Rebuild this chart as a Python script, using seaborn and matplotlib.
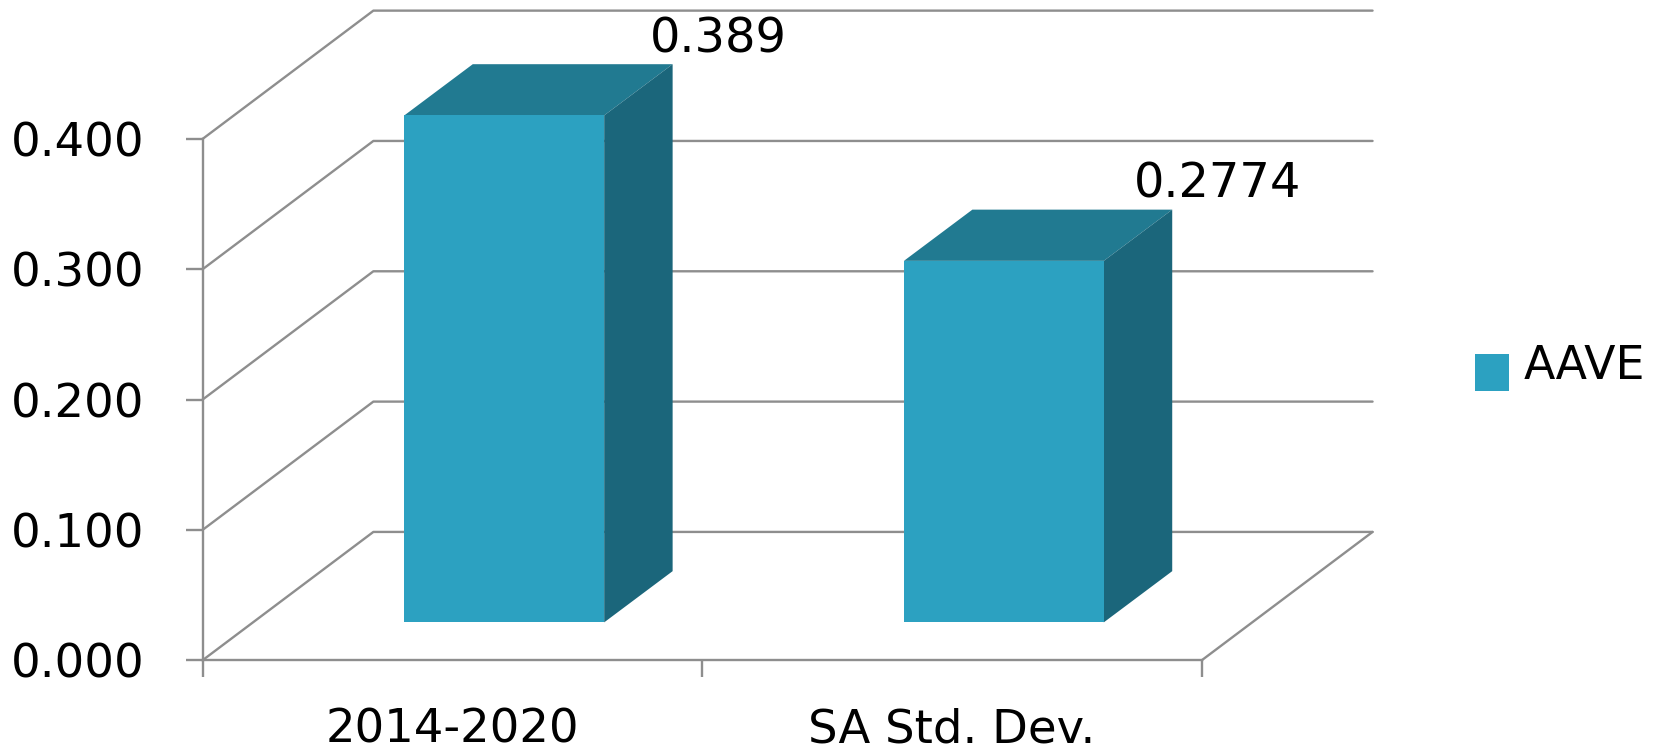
# 3D style bar chart, AAVE

import pandas as pd
import seaborn as sns
import matplotlib.pyplot as plt
from matplotlib.legend_handler import HandlerPatch
from matplotlib.patches import Patch, Polygon
from matplotlib.transforms import Affine2D

categories = ['2014-2020', 'SA Std. Dev.']
values = [0.389, 0.2774]
value_labels = ['0.389', '0.2774']
y_ticks = [0.0, 0.1, 0.2, 0.3, 0.4]
series_name = 'AAVE'

FRONT = '#2CA1C1'
TOP = '#217A91'
SIDE = '#1B667B'
GRID = '#8E8E8E'
FONT_SIZE = 33.5

# depth offsets in data units (categories, value)
WALL_DX, WALL_DY = 0.342, 0.0985
PLANE_DX, PLANE_DY = 0.104, 0.0291
BAR_DX, BAR_DY = 0.137, 0.0393

df = pd.DataFrame({'category': categories, 'value': values})

sns.set_style('white')
fig = plt.figure(figsize=(16.64, 7.52), dpi=100)
ax = fig.add_axes([202.5 / 1664, 1 - 660.3 / 752, 999.2 / 1664, 521.3 / 752])

sns.barplot(data=df, x='category', y='value', color=FRONT, saturation=1,
            width=0.4, ax=ax, zorder=4, linewidth=0)
ax.set_xlim(-0.5, 1.5)
ax.set_ylim(0, 0.4)
ax.set_xlabel('')
ax.set_ylabel('')

# gridlines run along the side wall, then across the back wall
for tick in y_ticks:
    ax.plot([-0.5, -0.5 + WALL_DX, 1.5 + WALL_DX],
            [tick, tick + WALL_DY, tick + WALL_DY],
            color=GRID, lw=1.7, clip_on=False, zorder=1)
ax.plot([1.5, 1.5 + WALL_DX], [0, WALL_DY], color=GRID, lw=1.7, clip_on=False, zorder=1)

shift = Affine2D().translate(PLANE_DX, PLANE_DY) + ax.transData
for bar, label in zip(ax.patches, value_labels):
    x0, x1 = bar.get_x(), bar.get_x() + bar.get_width()
    h = bar.get_height()
    bar.set_transform(shift)
    bar.set_clip_on(False)
    ax.add_patch(Polygon([(x0, h), (x1, h), (x1 + BAR_DX, h + BAR_DY), (x0 + BAR_DX, h + BAR_DY)],
                         closed=True, fc=TOP, ec='none', transform=shift, clip_on=False, zorder=3))
    ax.add_patch(Polygon([(x1, 0), (x1 + BAR_DX, BAR_DY), (x1 + BAR_DX, h + BAR_DY), (x1, h)],
                         closed=True, fc=SIDE, ec='none', transform=shift, clip_on=False, zorder=3))
    ax.annotate(label, xy=((x0 + x1) / 2, h), xycoords=shift, xytext=(154, 55),
                textcoords='offset points', ha='center', va='center',
                fontsize=34.5, color='black', annotation_clip=False, zorder=5)

sns.despine(ax=ax, top=True, right=True)
for side in ['left', 'bottom']:
    ax.spines[side].set_color(GRID)
    ax.spines[side].set_linewidth(1.7)

ax.set_yticks(y_ticks)
ax.set_yticklabels([f'{t:.3f}' for t in y_ticks], fontsize=FONT_SIZE, color='black')
ax.set_xticks([-0.5, 0.5, 1.5])
ax.set_xticklabels([])
ax.set_xticks([0, 1], minor=True)
ax.set_xticklabels(categories, minor=True, fontsize=FONT_SIZE, color='black')
ax.tick_params(axis='y', which='major', left=True, length=12.5, width=1.7, color=GRID, pad=29)
ax.tick_params(axis='x', which='major', bottom=True, length=12.5, width=1.7, color=GRID)
ax.tick_params(axis='x', which='minor', bottom=False, length=0, pad=34)

handle = Patch(facecolor=FRONT, edgecolor='none', label=series_name)
fig.legend(handles=[handle], loc='center left', bbox_to_anchor=(1475 / 1664, 1 - 367 / 752),
           frameon=False, fontsize=33, labelcolor='black', borderpad=0, borderaxespad=0,
           handlelength=0.74, handleheight=0.2, handletextpad=0.33,
           handler_map={Patch: HandlerPatch(ypad=-0.42)})

fig.savefig('out.png', dpi=100, facecolor='white')
